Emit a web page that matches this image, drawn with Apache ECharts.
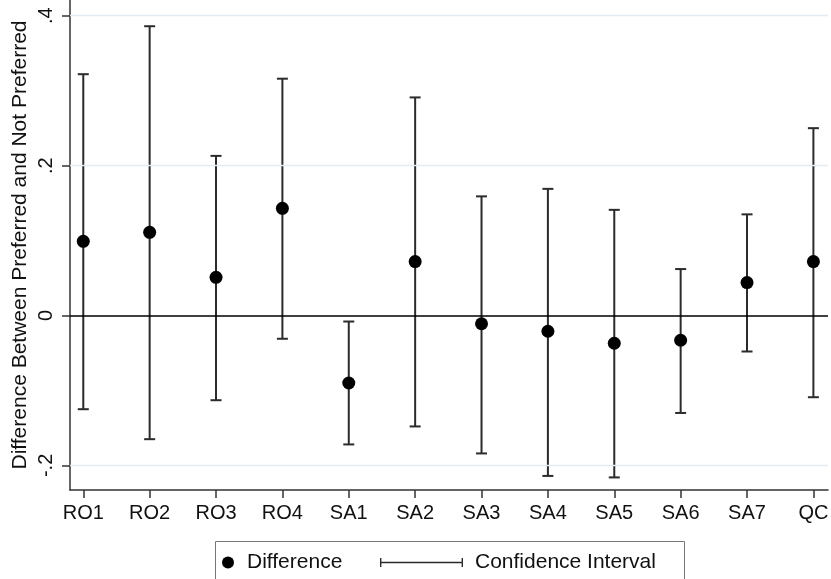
<!DOCTYPE html>
<html>
<head>
<meta charset="utf-8">
<script src="https://cdn.jsdelivr.net/npm/echarts@6/dist/echarts.min.js"></script>
<style>
html,body{margin:0;padding:0;background:#fff;}
#chart{width:831px;height:579px;}
</style>
</head>
<body>
<div id="chart"></div>
<script>
const categories = ['RO1','RO2','RO3','RO4','SA1','SA2','SA3','SA4','SA5','SA6','SA7','QC'];
const difference = [0.099, 0.111, 0.051, 0.143, -0.090, 0.072, -0.011, -0.021, -0.037, -0.033, 0.044, 0.072];
const ciUpper = [0.322, 0.386, 0.213, 0.316, -0.008, 0.291, 0.159, 0.169, 0.141, 0.062, 0.135, 0.250];
const ciLower = [-0.125, -0.165, -0.113, -0.031, -0.172, -0.148, -0.184, -0.214, -0.216, -0.130, -0.048, -0.109];
const yTicks = [-0.2, 0, 0.2, 0.4];
const yTickLabels = ['-.2', '0', '.2', '.4'];
const yTitle = 'Difference Between Preferred and Not Preferred';

const FONT = "'Liberation Sans', Arial, Helvetica, sans-serif";
const chart = echarts.init(document.getElementById('chart'), null, {renderer: 'canvas'});
const xIdx = categories.map((c, i) => i);

const option = {
  backgroundColor: '#ffffff',
  animation: false,
  textStyle: {fontFamily: FONT},
  grid: {left: 70, top: 0, width: 758, height: 490, containLabel: false, outerBoundsMode: 'none'},
  xAxis: {
    type: 'value', min: -0.2, max: 11.22,
    axisLine: {show: true, onZero: false, lineStyle: {color: '#333', width: 1.5}},
    axisTick: {show: true, customValues: xIdx, length: 8, lineStyle: {color: '#333', width: 1.5}},
    axisLabel: {customValues: xIdx, formatter: v => categories[Math.round(v)], fontSize: 20, color: '#111', margin: 13, fontFamily: FONT},
    splitLine: {show: false}
  },
  yAxis: {
    type: 'value', min: -0.2328, max: 0.421,
    name: yTitle, nameLocation: 'middle', nameGap: 39, nameMoveOverlap: false,
    nameTextStyle: {fontSize: 21, color: '#111', fontFamily: FONT},
    axisLine: {show: true, onZero: false, lineStyle: {color: '#333', width: 1.5}},
    axisTick: {show: true, customValues: yTicks, length: 8, lineStyle: {color: '#333', width: 1.5}},
    axisLabel: {customValues: yTicks, rotate: 90, fontSize: 20, color: '#111', margin: 14, fontFamily: FONT,
      formatter: v => { const k = yTicks.findIndex(t => Math.abs(t - v) < 1e-9); return k >= 0 ? yTickLabels[k] : ''; }},
    splitLine: {show: false}
  },
  legend: [
    {data: [{name: 'Difference', icon: 'circle'}], left: 222, top: 552, padding: 0,
     itemWidth: 12, itemHeight: 12, textStyle: {fontSize: 21, color: '#111', fontFamily: FONT, padding: [0, 0, 0, 8]}, selectedMode: false},
    {data: [{name: 'Confidence Interval', icon: 'path://M0,0H1.4V9H0Z M0,3.8H83V5.2H0Z M81.6,0H83V9H81.6Z'}], left: 380, top: 552, padding: 0,
     itemWidth: 83, itemHeight: 9, textStyle: {fontSize: 21, color: '#111', fontFamily: FONT, padding: [0, 0, 0, 7]}, selectedMode: false}
  ],
  graphic: [
    {type: 'rect', left: 213, top: 539, shape: {width: 469, height: 60}, style: {fill: 'none', stroke: '#777', lineWidth: 1}, z: -1}
  ],
  series: [
    {
      name: 'grid', type: 'line', data: [], silent: true, z: 1,
      markLine: {
        silent: true, symbol: 'none', label: {show: false},
        data: yTicks.map(t => ({yAxis: t, lineStyle: t === 0 ? {color: '#000', width: 1.5, type: 'solid'} : {color: '#e2ecf2', width: 1.3, type: 'solid'}}))
      }
    },
    {
      name: 'Confidence Interval', type: 'custom', z: 3,
      itemStyle: {color: '#2b2b2b'},
      data: xIdx.map(i => [i, ciLower[i], ciUpper[i]]),
      encode: {x: 0, y: [1, 2]},
      renderItem: function (params, api) {
        const x = api.value(0);
        const lo = api.coord([x, api.value(1)]);
        const hi = api.coord([x, api.value(2)]);
        const hw = 5.5;
        const st = {stroke: '#2b2b2b', lineWidth: 2};
        return {type: 'group', children: [
          {type: 'line', shape: {x1: lo[0], y1: lo[1], x2: hi[0], y2: hi[1]}, style: st},
          {type: 'line', shape: {x1: lo[0] - hw, y1: lo[1], x2: lo[0] + hw, y2: lo[1]}, style: st},
          {type: 'line', shape: {x1: hi[0] - hw, y1: hi[1], x2: hi[0] + hw, y2: hi[1]}, style: st}
        ]};
      }
    },
    {
      name: 'Difference', type: 'scatter', z: 5,
      symbol: 'circle', symbolSize: 13,
      itemStyle: {color: '#000', opacity: 1},
      data: xIdx.map(i => [i, difference[i]])
    }
  ]
};
chart.setOption(option);
</script>
</body>
</html>
